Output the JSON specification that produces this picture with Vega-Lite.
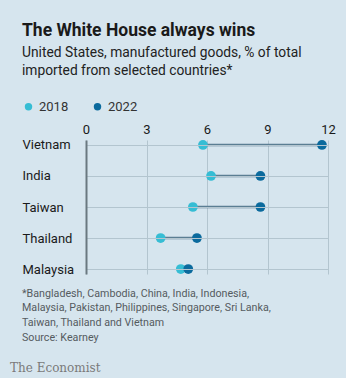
{
  "$schema": "https://vega.github.io/schema/vega-lite/v6.json",
  "background": "#d6e5ee",
  "padding": {"left": 10, "top": 22, "right": 10, "bottom": 2},
  "config": {
    "view": {"stroke": null},
    "font": "Roboto"
  },
  "title": {
    "text": "The White House always wins",
    "subtitle": ["United States, manufactured goods, % of total", "imported from selected countries*"],
    "anchor": "start",
    "frame": "bounds",
    "baseline": "top",
    "dx": 12,
    "font": "Roboto",
    "fontSize": 17.5,
    "fontWeight": "bold",
    "color": "#1a1a1a",
    "subtitleFont": "Roboto",
    "subtitleFontSize": 13.8,
    "subtitleColor": "#222222",
    "subtitleLineHeight": 18.5,
    "subtitlePadding": 6,
    "offset": 22
  },
  "spacing": 11,
  "vconcat": [
    {
      "width": 242,
      "height": 134,
      "data": {
        "values": [
          {"country": "Vietnam", "year": "2018", "value": 5.8},
          {"country": "Vietnam", "year": "2022", "value": 11.7},
          {"country": "India", "year": "2018", "value": 6.2},
          {"country": "India", "year": "2022", "value": 8.65},
          {"country": "Taiwan", "year": "2018", "value": 5.3},
          {"country": "Taiwan", "year": "2022", "value": 8.65},
          {"country": "Thailand", "year": "2018", "value": 3.7},
          {"country": "Thailand", "year": "2022", "value": 5.5},
          {"country": "Malaysia", "year": "2018", "value": 4.7},
          {"country": "Malaysia", "year": "2022", "value": 5.07}
        ]
      },
      "encoding": {
        "x": {
          "field": "value",
          "type": "quantitative",
          "scale": {"domain": [0, 12], "nice": false, "zero": true},
          "axis": {
            "orient": "top",
            "values": [0, 3, 6, 9, 12],
            "title": null,
            "domain": false,
            "ticks": false,
            "grid": true,
            "gridColor": "#b3c5cf",
            "gridWidth": 1,
            "labelFont": "Roboto",
            "labelFontSize": 13,
            "labelColor": "#1a1a1a",
            "labelPadding": 4,
            "labelFlush": false
          }
        },
        "y": {
          "field": "country",
          "type": "nominal",
          "sort": ["Vietnam", "India", "Taiwan", "Thailand", "Malaysia"],
          "scale": {"type": "point", "padding": 0.16},
          "axis": {
            "title": null,
            "domain": true,
            "domainColor": "#6a7880",
            "domainWidth": 2,
            "ticks": false,
            "grid": true,
            "gridColor": "#b3c5cf",
            "gridWidth": 1,
            "labelAlign": "left",
            "labelPadding": 64,
            "labelFont": "Roboto",
            "labelFontSize": 13,
            "labelColor": "#1a1a1a",
            "zindex": 1
          }
        }
      },
      "layer": [
        {
          "mark": {"type": "line", "color": "#5b7e93", "strokeWidth": 2.5},
          "encoding": {
            "detail": {"field": "country"},
            "order": {"field": "year"}
          }
        },
        {
          "mark": {"type": "circle", "opacity": 1, "size": 95},
          "encoding": {
            "color": {
              "field": "year",
              "type": "nominal",
              "scale": {"domain": ["2018", "2022"], "range": ["#36bdd4", "#0b6a9d"]},
              "legend": {
                "orient": "none",
                "legendX": -64,
                "legendY": -40,
                "direction": "horizontal",
                "title": null,
                "symbolType": "circle",
                "symbolSize": 55,
                "symbolStrokeWidth": 0,
                "labelFont": "Roboto",
                "labelFontSize": 13,
                "labelColor": "#333333",
                "labelOffset": 4,
                "columnPadding": 22
              }
            }
          }
        }
      ]
    },
    {
      "width": 242,
      "height": 7,
      "data": {"values": []},
      "mark": {"type": "rule"},
      "encoding": {},
      "title": {
        "text": ["*Bangladesh, Cambodia, China, India, Indonesia,", "Malaysia, Pakistan, Philippines, Singapore, Sri Lanka,", "Taiwan, Thailand and Vietnam"],
        "subtitle": "Source: Kearney",
        "anchor": "start",
        "frame": "group",
        "baseline": "top",
        "dx": -64,
        "font": "Roboto",
        "fontSize": 10.7,
        "fontWeight": "normal",
        "color": "#555b5f",
        "lineHeight": 14.3,
        "subtitleFont": "Roboto",
        "subtitleFontSize": 10.7,
        "subtitleColor": "#555b5f",
        "subtitlePadding": 5,
        "offset": 0
      }
    },
    {
      "width": 242,
      "height": 1,
      "data": {"values": []},
      "mark": {"type": "rule"},
      "encoding": {},
      "title": {
        "text": "The Economist",
        "anchor": "start",
        "frame": "group",
        "baseline": "top",
        "dx": -76,
        "font": "DejaVu Serif",
        "fontSize": 12,
        "fontWeight": "normal",
        "color": "#7a7a7a",
        "offset": 0
      }
    }
  ]
}
